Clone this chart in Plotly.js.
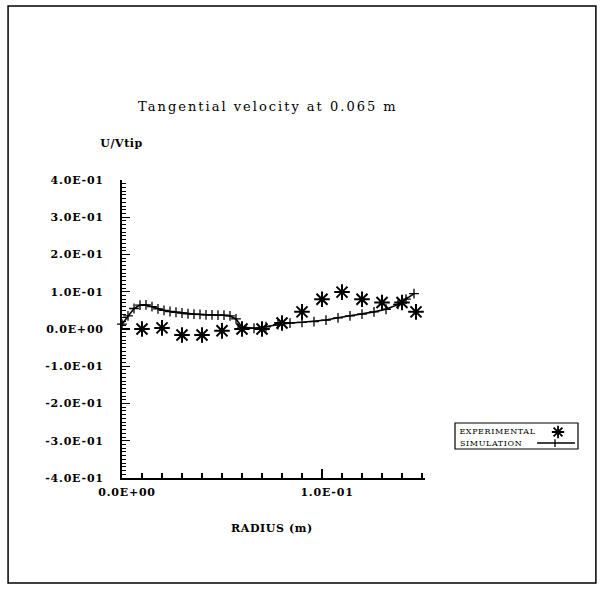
<!DOCTYPE html>
<html>
<head>
<meta charset="utf-8">
<script src="https://cdn.plot.ly/plotly-3.0.1.min.js"></script>
<style>
html,body{margin:0;padding:0;background:#fff;}
#chart{width:602px;height:594px;}
#chart .gtitle{letter-spacing:2.0px;}
#chart .ytick text,#chart text.ytick,#chart .xtick text,#chart text.xtick{letter-spacing:0.8px;}
#chart .annotation-text{letter-spacing:0.6px;}
</style>
</head>
<body>
<div id="chart"></div>
<script>
// Experimental data (asterisks)
var expX = [0.01, 0.02, 0.03, 0.04, 0.05, 0.06, 0.07, 0.08, 0.09, 0.10, 0.11, 0.12, 0.13, 0.14, 0.147];
var expY = [0.0, 0.003, -0.016, -0.016, -0.005, 0.0, 0.0, 0.016, 0.046, 0.080, 0.099, 0.080, 0.071, 0.071, 0.046];

// Simulation data (line with + markers)
var simX = [0, 0.003, 0.006, 0.009, 0.012, 0.015, 0.018, 0.021, 0.024, 0.027, 0.030, 0.033, 0.036, 0.039,
            0.042, 0.045, 0.048, 0.051, 0.054, 0.057, 0.060, 0.066, 0.072, 0.078, 0.084, 0.090, 0.096,
            0.102, 0.108, 0.114, 0.120, 0.126, 0.132, 0.138, 0.142, 0.146];
var simY = [0.013, 0.035, 0.055, 0.064, 0.065, 0.060, 0.054, 0.050, 0.047, 0.045, 0.043, 0.041, 0.040, 0.039,
            0.038, 0.038, 0.037, 0.037, 0.035, 0.027, 0.005, 0.002, 0.006, 0.012, 0.016, 0.018, 0.020,
            0.024, 0.030, 0.035, 0.040, 0.046, 0.053, 0.066, 0.080, 0.095];

// Tick labels
var yTickVals = [-0.4, -0.3, -0.2, -0.1, 0, 0.1, 0.2, 0.3, 0.4];
var yTickText = ["-4.0E-01", "-3.0E-01", "-2.0E-01", "-1.0E-01", "0.0E+00", "1.0E-01", "2.0E-01", "3.0E-01", "4.0E-01"];
var xTickVals = [0, 0.1];
var xTickText = ["0.0E+00", "1.0E-01"];

var seriesNames = ["EXPERIMENTAL", "SIMULATION"];
var titleText = "Tangential velocity at 0.065 m";
var yLabel = "U/Vtip";
var xLabel = "RADIUS (m)";

var serif = "DejaVu Serif, Liberation Serif, serif";

var traces = [
  {
    x: expX, y: expY, name: seriesNames[0], type: "scatter", mode: "markers",
    marker: {symbol: "asterisk-open", size: 13, color: "#000", line: {color: "#000", width: 2}},
    cliponaxis: false, showlegend: false
  },
  {
    x: simX, y: simY, name: seriesNames[1], type: "scatter", mode: "lines+markers",
    line: {color: "#000", width: 1.6},
    marker: {symbol: "cross-thin-open", size: 7, color: "#000", line: {color: "#000", width: 1.3}},
    cliponaxis: false, showlegend: false
  }
];

// legend key geometry (paper coordinates), drawn as a boxed key with text left, symbol right
var lgBox = {x0: 1.099, x1: 1.505, y0: 0.0973, y1: 0.1846};
var lgRowY = [0.1544, 0.1174];
var lgTextX = 1.118;
var lgSymX = 1.439;

function asteriskPath(cx, cy) {
  var ax = 0.0205, ay = 0.0208, dx = 0.0145, dy = 0.0147;
  return "M" + (cx - ax) + "," + cy + " L" + (cx + ax) + "," + cy +
         " M" + cx + "," + (cy - ay) + " L" + cx + "," + (cy + ay) +
         " M" + (cx - dx) + "," + (cy - dy) + " L" + (cx + dx) + "," + (cy + dy) +
         " M" + (cx - dx) + "," + (cy + dy) + " L" + (cx + dx) + "," + (cy - dy);
}

var layout = {
  width: 602, height: 594,
  paper_bgcolor: "#fff", plot_bgcolor: "#fff",
  margin: {l: 122, r: 177, t: 180, b: 116},
  showlegend: false,
  title: {
    text: titleText, x: 0.445, xanchor: "center", y: 0.82, yanchor: "middle",
    font: {family: serif, size: 13, color: "#000"}
  },
  xaxis: {
    range: [0, 0.1515], showgrid: false, zeroline: false,
    showline: true, linecolor: "#000", linewidth: 2,
    tickmode: "array", tickvals: xTickVals, ticktext: xTickText,
    ticks: "inside", ticklen: 9, tickwidth: 1.3, tickcolor: "#000",
    minor: {dtick: 0.01, tick0: 0, ticks: "inside", ticklen: 5, tickwidth: 1.2, tickcolor: "#000", showgrid: false},
    tickfont: {family: serif, size: 11, color: "#000", weight: "bold"},
    ticklabelstandoff: 3, ticklabelshift: 5
  },
  yaxis: {
    range: [-0.4, 0.4], showgrid: false, zeroline: false,
    showline: true, linecolor: "#000", linewidth: 2,
    tickmode: "array", tickvals: yTickVals, ticktext: yTickText,
    ticks: "inside", ticklen: 8, tickwidth: 1.3, tickcolor: "#000",
    minor: {dtick: 0.01, tick0: 0, ticks: "inside", ticklen: 4, tickwidth: 1, tickcolor: "#000", showgrid: false},
    tickfont: {family: serif, size: 11, color: "#000", weight: "bold"},
    ticklabelstandoff: 14
  },
  annotations: [
    {text: yLabel, xref: "paper", yref: "paper", x: -0.073, y: 1.124, xanchor: "left", yanchor: "middle",
     showarrow: false, font: {family: serif, size: 11, color: "#000", weight: "bold"}},
    {text: xLabel, xref: "paper", yref: "paper", x: 0.495, y: -0.168, xanchor: "center", yanchor: "middle",
     showarrow: false, font: {family: serif, size: 11, color: "#000", weight: "bold"}},
    {text: seriesNames[0], xref: "paper", yref: "paper", x: lgTextX, y: lgRowY[0], xanchor: "left", yanchor: "middle",
     showarrow: false, font: {family: serif, size: 8, color: "#000"}},
    {text: seriesNames[1], xref: "paper", yref: "paper", x: lgTextX, y: lgRowY[1], xanchor: "left", yanchor: "middle",
     showarrow: false, font: {family: serif, size: 8, color: "#000"}}
  ],
  shapes: [
    {type: "rect", xref: "paper", yref: "paper", x0: -0.376, x1: 1.564, y0: -0.352, y1: 1.584,
     line: {color: "#000", width: 1.5}, fillcolor: "rgba(0,0,0,0)", layer: "below"},
    {type: "rect", xref: "paper", yref: "paper", x0: lgBox.x0, x1: lgBox.x1, y0: lgBox.y0, y1: lgBox.y1,
     line: {color: "#000", width: 1.2}, fillcolor: "rgba(0,0,0,0)"},
    {type: "path", xref: "paper", yref: "paper", path: asteriskPath(lgSymX, lgRowY[0]),
     line: {color: "#000", width: 1.8}},
    {type: "line", xref: "paper", yref: "paper", x0: 1.370, x1: 1.495, y0: lgRowY[1], y1: lgRowY[1],
     line: {color: "#000", width: 1.4}},
    {type: "line", xref: "paper", yref: "paper", x0: 1.429, x1: 1.429, y0: lgRowY[1] - 0.013, y1: lgRowY[1] + 0.013,
     line: {color: "#000", width: 1.3}}
  ]
};

Plotly.newPlot("chart", traces, layout, {displayModeBar: false, staticPlot: true});
</script>
</body>
</html>
